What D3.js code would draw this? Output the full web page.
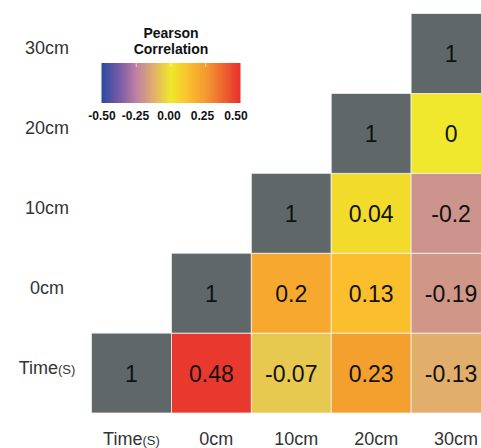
<!DOCTYPE html>
<html>
<head>
<meta charset="utf-8">
<script src="https://cdn.jsdelivr.net/npm/d3@7"></script>
<style>
  html, body { margin: 0; padding: 0; background: #fff; }
  svg { display: block; font-family: "Liberation Sans", Arial, sans-serif; }
</style>
</head>
<body>
<div id="chart"></div>
<script>
// variables, bottom row first
const variables = ["Time", "0cm", "10cm", "20cm", "30cm"];
// correlations per row, starting at the diagonal
const rowTime = [1, 0.48, -0.07, 0.23, -0.13];
const row0cm = [1, 0.2, 0.13, -0.19];
const row10cm = [1, 0.04, -0.2];
const row20cm = [1, 0];
const row30cm = [1];
const rows = [rowTime, row0cm, row10cm, row20cm, row30cm];
const legendTicks = [-0.5, -0.25, 0, 0.25, 0.5];

const width = 481;
const height = 448;

const svg = d3.select("#chart").append("svg")
  .attr("width", width)
  .attr("height", height);

const x = d3.scaleBand().domain(variables).range([91.5, 491]);
const y = d3.scaleBand().domain(variables.slice().reverse()).range([13.5, 413]);

const color = d3.scaleLinear()
  .domain([-0.5, -0.375, -0.25, -0.125, 0, 0.125, 0.25, 0.5])
  .range(["#2a4c9f", "#7558a8", "#bf80a4", "#e3b06a", "#efe82c", "#fbc02c", "#f39a30", "#e8302e"])
  .clamp(true);

const cells = [];
rows.forEach((r, i) => {
  r.forEach((v, k) => {
    cells.push({row: variables[i], col: variables[i + k], value: v, diag: k === 0});
  });
});

const cell = svg.append("g")
  .selectAll("g")
  .data(cells)
  .enter()
    .append("g")
    .attr("transform", d => `translate(${x(d.col)},${y(d.row)})`);

cell.append("rect")
  .attr("width", x.bandwidth())
  .attr("height", y.bandwidth())
  .attr("fill", d => d.diag ? "#5f6769" : color(d.value))
  .attr("stroke", "#f2f2f2")
  .attr("stroke-width", 0.8);

cell.append("text")
  .text(d => String(d.value))
  .attr("x", x.bandwidth() / 2)
  .attr("y", y.bandwidth() / 2 + 9)
  .attr("fill", "#111")
  .style("text-anchor", "middle")
  .style("font-size", "23px");

// axis labels
const labelText = (sel) => {
  sel.text(d => d);
  sel.filter(d => d === "Time").append("tspan")
    .text("(S)")
    .style("font-size", "13px");
};

svg.append("g")
  .selectAll("text")
  .data(variables)
  .enter()
    .append("text")
    .attr("x", 47)
    .attr("y", d => y(d) + y.bandwidth() / 2 + 1)
    .attr("fill", "#333")
    .style("text-anchor", "middle")
    .style("font-size", "18px")
    .call(labelText);

svg.append("g")
  .selectAll("text")
  .data(variables)
  .enter()
    .append("text")
    .attr("x", d => x(d) + x.bandwidth() / 2 + (d === "Time" ? 0 : 5))
    .attr("y", 445)
    .attr("fill", "#333")
    .style("text-anchor", "middle")
    .style("font-size", "18px")
    .call(labelText);

// legend
const legendX = d3.scaleLinear().domain([-0.5, 0.5]).range([101.5, 240.5]);
const grad = svg.append("defs").append("linearGradient")
  .attr("id", "pearson")
  .attr("x1", "0%").attr("x2", "100%");
d3.range(0, 1.0001, 0.05).forEach(t => {
  grad.append("stop")
    .attr("offset", `${t * 100}%`)
    .attr("stop-color", color(-0.5 + t));
});

const legend = svg.append("g");
legend.append("text")
  .text("Pearson")
  .attr("x", 171)
  .attr("y", 38)
  .attr("fill", "#111")
  .style("text-anchor", "middle")
  .style("font-weight", "bold")
  .style("font-size", "14px");
legend.append("text")
  .text("Correlation")
  .attr("x", 171)
  .attr("y", 54)
  .attr("fill", "#111")
  .style("text-anchor", "middle")
  .style("font-weight", "bold")
  .style("font-size", "14px");
legend.append("rect")
  .attr("x", legendX(-0.5))
  .attr("y", 63)
  .attr("width", legendX(0.5) - legendX(-0.5))
  .attr("height", 40)
  .attr("fill", "url(#pearson)");
legend.selectAll(".tick")
  .data(legendTicks.slice(1, -1))
  .enter()
    .append("line")
    .attr("x1", d => legendX(d))
    .attr("x2", d => legendX(d))
    .attr("y1", 63)
    .attr("y2", 67)
    .attr("stroke", "#fff")
    .attr("stroke-opacity", 0.6);

const tickX = d3.scaleLinear().domain([-0.5, 0.5]).range([102, 236]);
legend.selectAll(".lab")
  .data(legendTicks)
  .enter()
    .append("text")
    .text(d => d3.format(".2f")(d).replace("−", "-"))
    .attr("x", d => tickX(d))
    .attr("y", 120)
    .attr("fill", "#111")
    .style("text-anchor", "middle")
    .style("font-weight", "bold")
    .style("font-size", "12px");
</script>
</body>
</html>
